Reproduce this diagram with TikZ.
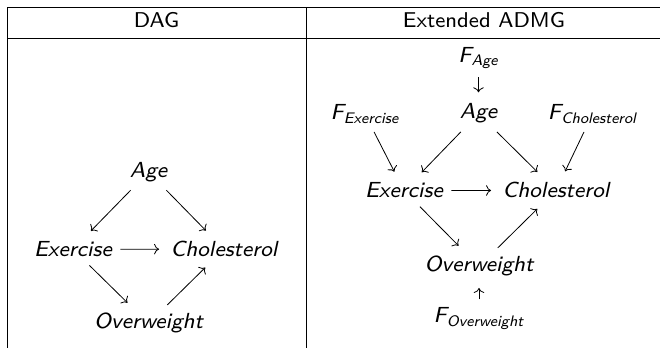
\documentclass[tikz,border=0pt]{standalone}
\usepackage{fontspec}
\setsansfont{lmsans8-regular.otf}[ItalicFont=lmsans8-oblique.otf]
\usetikzlibrary{arrows.meta}

\begin{document}
\begin{tikzpicture}[x=0.495pt,y=-0.495pt]
\tikzset{
  varnode/.style={anchor=base,inner sep=4pt,font=\fontsize{10.8}{13}\sffamily\itshape},
  headnode/.style={anchor=base,inner sep=0pt,font=\fontsize{10.6}{13}\sffamily},
  causal/.style={-{Computer Modern Rightarrow},line width=0.4pt,shorten >=1.5pt},
  tabrule/.style={line width=0.4pt}
}
\useasboundingbox (0,0) rectangle (660,348);
% table frame
\draw[tabrule] (7.5,7.5) -- (660,7.5);
\draw[tabrule] (7.5,38) -- (660,38);
\draw[tabrule] (7.5,7.5) -- (7.5,348);
\draw[tabrule] (306,7.5) -- (306,348);
\node[headnode] (h_dag) at (156.5,28) {DAG};
\node[headnode] (h_admg) at (484,28) {Extended ADMG};
% DAG
\node[varnode] (d_age) at (148.5,177.3) {Age};
\node[varnode] (d_ex) at (73,256.7) {Exercise};
\node[varnode] (d_chol) at (224,256.7) {Cholesterol};
\node[varnode] (d_over) at (148.5,329) {Overweight};
\draw[causal] (d_age) -- (d_ex);
\draw[causal] (d_age) -- (d_chol);
\draw[causal] (d_ex) -- (d_chol);
\draw[causal] (d_ex) -- (d_over);
\draw[causal] (d_over) -- (d_chol);
% extended ADMG
\node[varnode] (a_fage) at (478.5,62.5) {F\textsubscript{Age}};
\node[varnode] (a_age) at (478.5,119) {Age};
\node[varnode] (a_fex) at (365,120) {F\textsubscript{Exercise}};
\node[varnode] (a_fchol) at (592.5,120) {F\textsubscript{Cholesterol}};
\node[varnode] (a_ex) at (404,198) {Exercise};
\node[varnode] (a_chol) at (556,198) {Cholesterol};
\node[varnode] (a_over) at (479,272) {Overweight};
\node[varnode] (a_fover) at (479,323) {F\textsubscript{Overweight}};
\draw[causal] (a_fage) -- (a_age);
\draw[causal] (a_fex) -- (a_ex);
\draw[causal] (a_age) -- (a_ex);
\draw[causal] (a_age) -- (a_chol);
\draw[causal] (a_fchol) -- (a_chol);
\draw[causal] (a_ex) -- (a_chol);
\draw[causal] (a_ex) -- (a_over);
\draw[causal] (a_over) -- (a_chol);
\draw[causal] (a_fover) -- (a_over);
\end{tikzpicture}
\end{document}
